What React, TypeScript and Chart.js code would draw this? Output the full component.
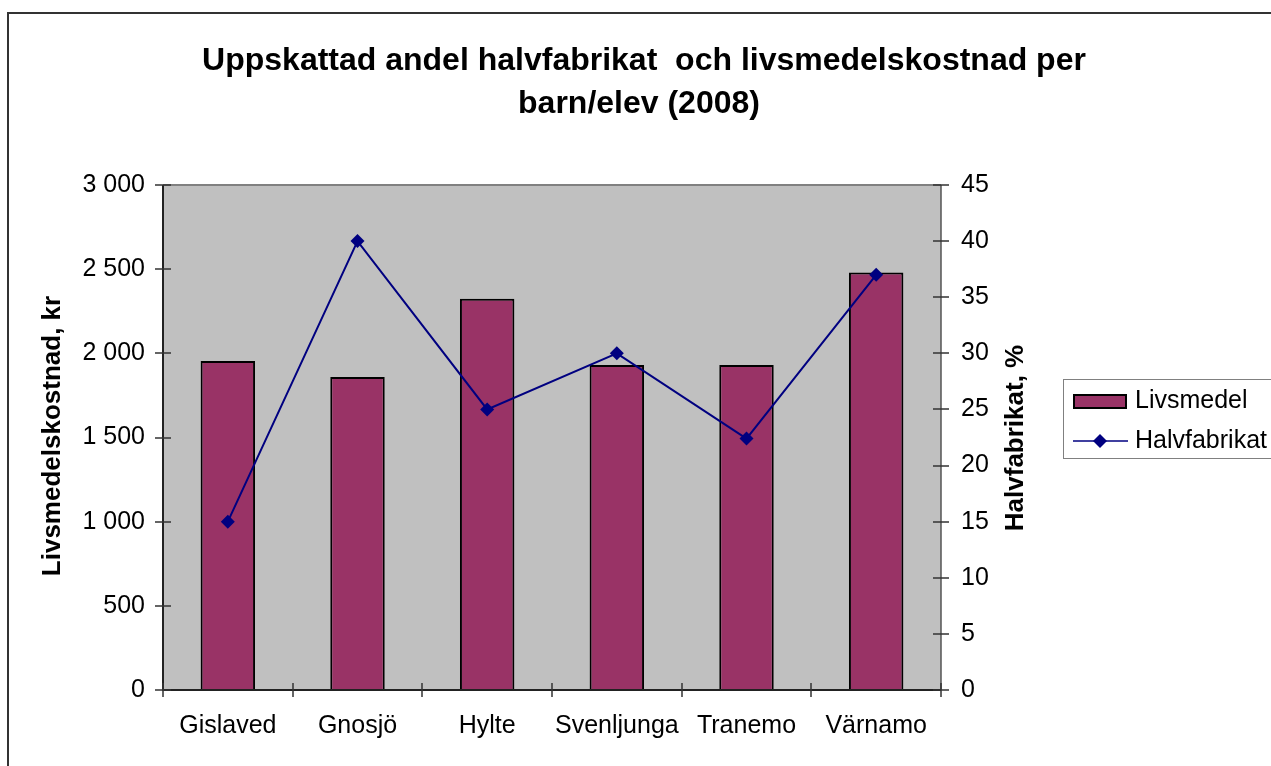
import React, { useEffect, useRef } from "react";
import { Chart, registerables } from "chart.js";

Chart.register(...registerables);

const categories = ["Gislaved", "Gnosjö", "Hylte", "Svenljunga", "Tranemo", "Värnamo"];
const livsmedel = [1955, 1860, 2325, 1930, 1930, 2480];
const halvfabrikat = [15, 40, 25, 30, 22.4, 37];
const titleLines = ["Uppskattad andel halvfabrikat  och livsmedelskostnad per", "barn/elev (2008)"];
const leftAxisTitle = "Livsmedelskostnad, kr";
const rightAxisTitle = "Halvfabrikat, %";
const leftMax = 3000;
const leftStep = 500;
const rightMax = 45;
const rightStep = 5;

const FONT = "'Liberation Sans', Arial, sans-serif";
const BAR_COLOR = "#993366";
const LINE_COLOR = "#000080";

const fmt = (v: number) => String(v).replace(/\B(?=(\d{3})+(?!\d))/g, " ");

const decor = {
  id: "decor",
  beforeDraw(chart: any) {
    const { ctx, chartArea: a } = chart;
    ctx.save();
    ctx.fillStyle = "#ffffff";
    ctx.fillRect(0, 0, chart.width, chart.height);
    ctx.fillStyle = "#C0C0C0";
    ctx.fillRect(a.left, a.top, a.right - a.left, a.bottom - a.top);
    ctx.restore();
  },
  afterDatasetsDraw(chart: any) {
    const { ctx, chartArea: a, scales } = chart;
    ctx.save();
    ctx.strokeStyle = "#808080";
    ctx.lineWidth = 2;
    ctx.beginPath();
    ctx.moveTo(a.left, a.top);
    ctx.lineTo(a.right, a.top);
    ctx.stroke();
    ctx.strokeStyle = "#555555";
    ctx.lineWidth = 1.5;
    ctx.beginPath();
    ctx.moveTo(a.right, a.top);
    ctx.lineTo(a.right, a.bottom);
    ctx.stroke();
    ctx.strokeStyle = "#222222";
    ctx.lineWidth = 2;
    ctx.beginPath();
    ctx.moveTo(a.left, a.top);
    ctx.lineTo(a.left, a.bottom);
    ctx.lineTo(a.right, a.bottom);
    ctx.stroke();
    ctx.strokeStyle = "#333333";
    ctx.lineWidth = 1.5;
    ctx.beginPath();
    scales.y.ticks.forEach((t: any) => {
      const y = Math.round(scales.y.getPixelForValue(t.value));
      ctx.moveTo(a.left - 8, y);
      ctx.lineTo(a.left + 8, y);
    });
    scales.y1.ticks.forEach((t: any) => {
      const y = Math.round(scales.y1.getPixelForValue(t.value));
      ctx.moveTo(a.right - 8, y);
      ctx.lineTo(a.right + 8, y);
    });
    const n = categories.length;
    const w = (a.right - a.left) / n;
    for (let i = 0; i <= n; i++) {
      const x = Math.round(a.left + i * w);
      ctx.moveTo(x, a.bottom - 7);
      ctx.lineTo(x, a.bottom + 7);
    }
    ctx.stroke();
    ctx.restore();
  },
  afterDraw(chart: any) {
    const { ctx } = chart;
    ctx.save();
    ctx.fillStyle = "#000";
    ctx.font = `bold 32px ${FONT}`;
    ctx.textAlign = "center";
    ctx.textBaseline = "middle";
    ctx.fillText(titleLines[0], 644, 61);
    ctx.fillText(titleLines[1], 639, 104);
    ctx.font = `bold 26px ${FONT}`;
    ctx.save();
    ctx.translate(53, 436);
    ctx.rotate(-Math.PI / 2);
    ctx.fillText(leftAxisTitle, 0, 0);
    ctx.restore();
    ctx.save();
    ctx.translate(1016, 438);
    ctx.rotate(-Math.PI / 2);
    ctx.fillText(rightAxisTitle, 0, 0);
    ctx.restore();
    const lx = 1063, ly = 379, lw = 230, lh = 79;
    ctx.fillStyle = "#ffffff";
    ctx.fillRect(lx, ly, lw, lh);
    ctx.strokeStyle = "#808080";
    ctx.lineWidth = 1;
    ctx.strokeRect(lx + 0.5, ly + 0.5, lw, lh);
    const ds = chart.data.datasets;
    ctx.font = `25px ${FONT}`;
    ctx.textAlign = "left";
    ctx.fillStyle = BAR_COLOR;
    ctx.fillRect(1074, 395, 52, 13);
    ctx.strokeStyle = "#000";
    ctx.lineWidth = 2;
    ctx.strokeRect(1074, 395, 52, 13);
    ctx.fillStyle = "#000";
    ctx.fillText(ds[0].label, 1135, 401);
    ctx.strokeStyle = LINE_COLOR;
    ctx.lineWidth = 1.5;
    ctx.beginPath();
    ctx.moveTo(1073, 441);
    ctx.lineTo(1128, 441);
    ctx.stroke();
    ctx.fillStyle = LINE_COLOR;
    ctx.beginPath();
    ctx.moveTo(1100, 434);
    ctx.lineTo(1107, 441);
    ctx.lineTo(1100, 448);
    ctx.lineTo(1093, 441);
    ctx.closePath();
    ctx.fill();
    ctx.fillStyle = "#000";
    ctx.fillText(ds[1].label, 1135, 441);
    ctx.strokeStyle = "#333333";
    ctx.lineWidth = 2;
    ctx.beginPath();
    ctx.moveTo(8, chart.height);
    ctx.lineTo(8, 13);
    ctx.lineTo(chart.width, 13);
    ctx.stroke();
    ctx.restore();
  },
};

export default function App() {
  const ref = useRef<HTMLCanvasElement>(null);
  useEffect(() => {
    document.body.style.margin = "0";
    const chart = new Chart(ref.current as HTMLCanvasElement, {
      type: "bar",
      data: {
        labels: categories,
        datasets: [
          {
            type: "bar",
            label: "Livsmedel",
            data: livsmedel,
            backgroundColor: BAR_COLOR,
            borderColor: "#000000",
            borderWidth: 2,
            barPercentage: 0.42,
            categoryPercentage: 1,
            yAxisID: "y",
            order: 2,
          },
          {
            type: "line",
            label: "Halvfabrikat",
            data: halvfabrikat,
            borderColor: LINE_COLOR,
            backgroundColor: LINE_COLOR,
            borderWidth: 2,
            pointStyle: "rectRot",
            pointRadius: 7,
            pointHoverRadius: 7,
            pointBorderWidth: 0,
            tension: 0,
            yAxisID: "y1",
            order: 1,
          } as any,
        ],
      },
      options: {
        responsive: false,
        animation: false,
        events: [],
        layout: { padding: { top: 185, left: 0, right: 0, bottom: 0 } },
        plugins: { legend: { display: false }, title: { display: false }, tooltip: { enabled: false } },
        scales: {
          x: {
            offset: true,
            grid: { display: false, drawTicks: false },
            border: { display: false },
            ticks: { color: "#000", font: { family: FONT, size: 25 }, padding: 21, maxRotation: 0 },
            afterFit: (s: any) => { s.height = 76; },
          },
          y: {
            position: "left",
            min: 0,
            max: leftMax,
            grid: { display: false, drawTicks: false },
            border: { display: false },
            ticks: { stepSize: leftStep, color: "#000", font: { family: FONT, size: 25 }, padding: 18, callback: (v: any) => fmt(Number(v)) },
            afterFit: (s: any) => { s.width = 163; },
          },
          y1: {
            position: "right",
            min: 0,
            max: rightMax,
            grid: { display: false, drawTicks: false },
            border: { display: false },
            ticks: { stepSize: rightStep, color: "#000", font: { family: FONT, size: 25 }, padding: 20 },
            afterFit: (s: any) => { s.width = 330; },
          },
        },
      },
      plugins: [decor],
    });
    return () => chart.destroy();
  }, []);
  return (
    <div style={{ position: "absolute", left: 0, top: 0, width: 1271, height: 766 }}>
      <canvas ref={ref} width={1271} height={766} />
    </div>
  );
}
